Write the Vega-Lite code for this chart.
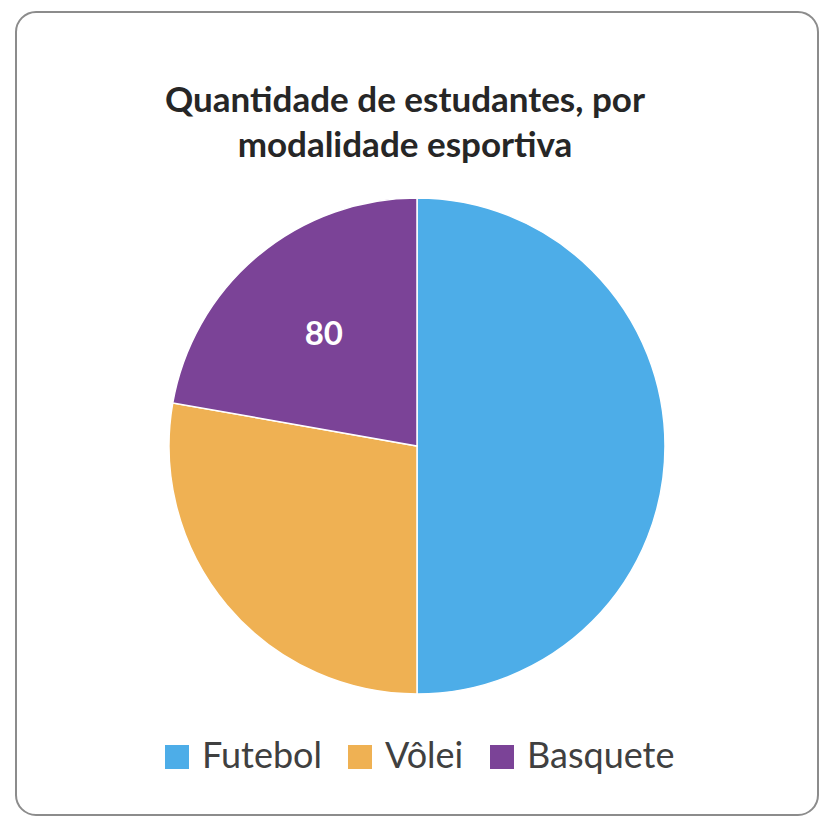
{
  "$schema": "https://vega.github.io/schema/vega-lite/v6.json",
  "autosize": {"type": "none"},
  "padding": {"left": 16, "top": 12, "right": 12, "bottom": 7},
  "width": 802,
  "height": 803,
  "background": "white",
  "view": {"stroke": "#8c8c8c", "strokeWidth": 2, "cornerRadius": 20, "fill": "white"},
  "title": {
    "text": ["Quantidade de estudantes, por", "modalidade esportiva"],
    "anchor": "middle",
    "orient": "top",
    "offset": -152,
    "dx": -12,
    "font": "Lato",
    "fontWeight": "bold",
    "fontSize": 35,
    "lineHeight": 45,
    "color": "#262626"
  },
  "data": {
    "values": [
      {"modalidade": "Futebol", "estudantes": 180, "ordem": 1},
      {"modalidade": "Vôlei", "estudantes": 100, "ordem": 2},
      {"modalidade": "Basquete", "estudantes": 80, "ordem": 3}
    ]
  },
  "encoding": {
    "theta": {"field": "estudantes", "type": "quantitative", "stack": true},
    "order": {"field": "ordem", "type": "quantitative"},
    "color": {
      "field": "modalidade",
      "type": "nominal",
      "sort": ["Futebol", "Vôlei", "Basquete"],
      "scale": {"domain": ["Futebol", "Vôlei", "Basquete"], "range": ["#4DADE8", "#EFB153", "#7B4397"]},
      "legend": {
        "title": null,
        "orient": "bottom",
        "direction": "horizontal",
        "offset": -76,
        "symbolType": "square",
        "symbolSize": 576,
        "symbolStrokeWidth": 0,
        "labelFont": "Lato",
        "labelFontSize": 36,
        "labelColor": "#404040",
        "labelOffset": 7,
        "columnPadding": 20
      }
    }
  },
  "layer": [
    {
      "mark": {"type": "arc", "radius": 248, "yOffset": 32.5, "stroke": "white", "strokeWidth": 1.5}
    },
    {
      "mark": {"type": "text", "radius": 145, "yOffset": 32.5, "font": "Lato", "fontWeight": "bold", "fontSize": 33, "fill": "white"},
      "encoding": {
        "text": {
          "condition": {"test": "datum.modalidade === 'Basquete'", "field": "estudantes", "type": "quantitative"},
          "value": ""
        },
        "color": {"value": "white"}
      }
    }
  ],
  "config": {
    "view": {"stroke": "#8c8c8c", "strokeWidth": 2, "cornerRadius": 20},
    "legend": {"layout": {"bottom": {"anchor": "middle"}}}
  }
}
